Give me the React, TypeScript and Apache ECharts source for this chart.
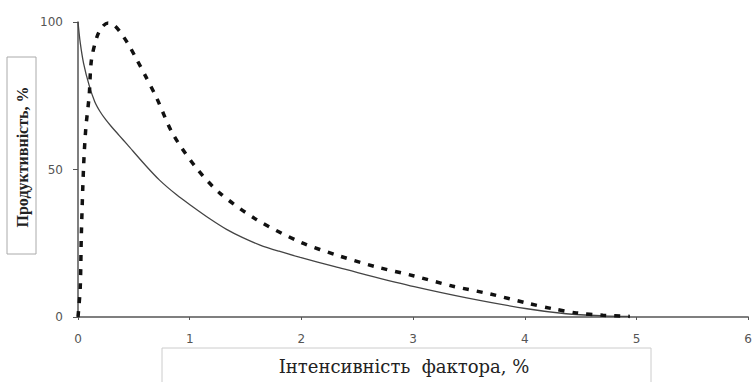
import React, { useEffect, useRef } from "react";
import * as echarts from "echarts";

const xTicks = [0, 1, 2, 3, 4, 5, 6];
const yTicks = [0, 50, 100];

const solidX = [0, 0.02, 0.05, 0.1, 0.15, 0.2, 0.25, 0.3, 0.37, 0.44, 0.6, 0.73, 0.88, 1.03, 1.18, 1.33, 1.48, 1.63, 1.8, 1.99, 2.3, 2.58, 3.01, 3.48, 4.02, 4.37, 4.7, 4.94];
const solidY = [100, 93, 86, 78.5, 73, 69.5, 66.8, 64.5, 61.5, 58.5, 51.6, 46.4, 41.5, 37.3, 33.3, 29.7, 26.8, 24.4, 22.3, 20.2, 17.1, 14.3, 10.3, 6.5, 2.8, 1.1, 0.4, 0.2];

const dashX = [0, 0.02, 0.03, 0.05, 0.07, 0.1, 0.12, 0.17, 0.22, 0.27, 0.32, 0.37, 0.45, 0.52, 0.6, 0.7, 0.85, 1.06, 1.27, 1.6, 1.99, 2.34, 2.67, 3.01, 3.35, 3.69, 4.02, 4.25, 4.46, 4.7, 4.94];
const dashY = [0, 10, 28, 51, 64, 75, 87, 95, 98.5, 99.7, 99, 97, 92.5, 87.7, 82, 74.6, 62, 50.5, 42, 33, 25.4, 20.7, 17, 13.9, 10.5, 7.8, 4.7, 2.8, 1.4, 0.6, 0.2];

const yTitle = "Продуктивність, %";
const xTitle = "Інтенсивність  фактора, %";

export default function App() {
  const ref = useRef<HTMLDivElement>(null);
  useEffect(() => {
    if (!ref.current) return;
    const chart = echarts.init(ref.current, null, { renderer: "svg" });
    const axisLabelStyle = { color: "#555", fontFamily: "DejaVu Sans", fontSize: 12 };
    chart.setOption({
      animation: false,
      backgroundColor: "#fff",
      grid: { left: 78, right: 6, top: 22, bottom: 65, containLabel: false },
      xAxis: {
        type: "value",
        min: xTicks[0],
        max: xTicks[xTicks.length - 1],
        interval: 1,
        splitLine: { show: false },
        axisLine: { lineStyle: { color: "#555", width: 1.5 } },
        axisTick: { show: true, length: 3, lineStyle: { color: "#555" } },
        axisLabel: { ...axisLabelStyle, margin: 16 },
      },
      yAxis: {
        type: "value",
        min: yTicks[0],
        max: yTicks[yTicks.length - 1],
        interval: 50,
        splitLine: { show: false },
        axisLine: { show: true, lineStyle: { color: "#555", width: 1.5 } },
        axisTick: { show: true, length: 5, lineStyle: { color: "#555" } },
        axisLabel: { ...axisLabelStyle, margin: 15 },
      },
      series: [
        {
          type: "line",
          data: solidX.map((x, i) => [x, solidY[i]]),
          smooth: 0.3,
          showSymbol: false,
          lineStyle: { color: "#444", width: 1.3 },
          z: 3,
        },
        {
          type: "line",
          data: dashX.map((x, i) => [x, dashY[i]]),
          smooth: 0.3,
          showSymbol: false,
          lineStyle: { color: "#111", width: 3.5, type: [6, 8], cap: "butt" },
          z: 4,
        },
      ],
      graphic: [
        {
          type: "rect",
          shape: { x: 7, y: 57, width: 29, height: 197 },
          style: { fill: "#fff", stroke: "#aaa", lineWidth: 1 },
        },
        {
          type: "text",
          x: 22,
          y: 157,
          rotation: Math.PI / 2,
          style: {
            text: yTitle,
            fontFamily: "Liberation Serif",
            fontWeight: "bold",
            fontSize: 16,
            fill: "#222",
            align: "center",
            verticalAlign: "middle",
          },
        },
        {
          type: "rect",
          shape: { x: 162, y: 348, width: 489, height: 45 },
          style: { fill: "#fff", stroke: "#ccc", lineWidth: 1 },
        },
        {
          type: "text",
          x: 404,
          y: 366,
          style: {
            text: xTitle,
            fontFamily: "DejaVu Serif",
            fontSize: 18,
            fill: "#222",
            align: "center",
            verticalAlign: "middle",
          },
        },
      ],
    });
    return () => chart.dispose();
  }, []);
  return (
    <div
      ref={ref}
      style={{ position: "fixed", left: 0, top: 0, width: 755, height: 382 }}
    />
  );
}
